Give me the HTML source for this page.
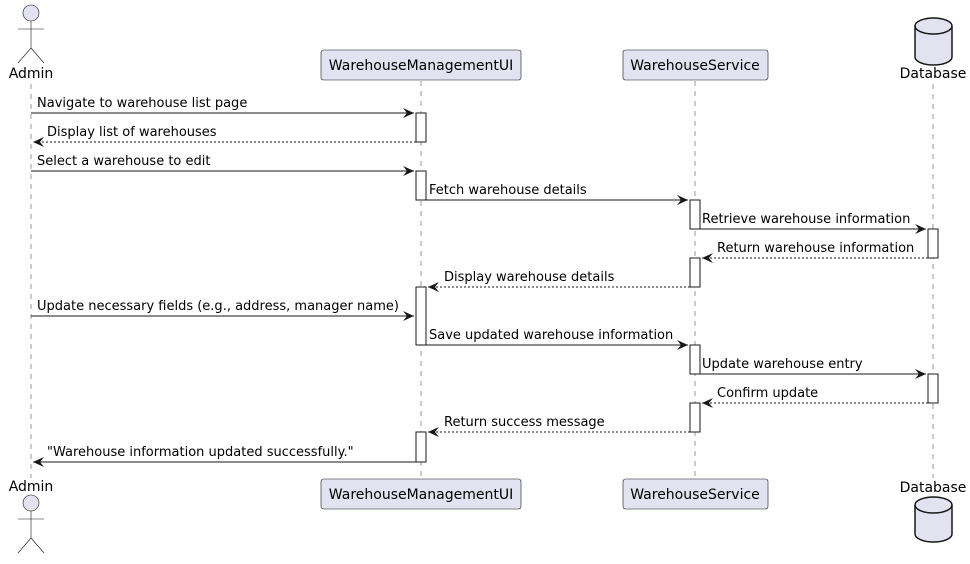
<!DOCTYPE html>
<html><head><meta charset="utf-8"><style>
html,body{margin:0;padding:0;background:#fff;}
svg text{font-family:"DejaVu Sans","Liberation Sans",sans-serif;font-size:13px;fill:#000;}
svg text.p{font-size:14px;}
</style></head><body>
<svg width="970" height="559" viewBox="0 0 970 559" xmlns="http://www.w3.org/2000/svg">
<defs>
<marker id="ah" markerWidth="12" markerHeight="10" refX="11" refY="5" orient="auto" markerUnits="userSpaceOnUse">
<path d="M0,0 L11,5 L0,10 L4,5 Z" fill="#181818"/>
</marker>
</defs>
<g stroke="#555" stroke-width="0.6" stroke-dasharray="5,5">
<line x1="31" y1="84" x2="31" y2="478"/>
<line x1="421" y1="81" x2="421" y2="479"/>
<line x1="695" y1="81" x2="695" y2="479"/>
<line x1="933" y1="84" x2="933" y2="478"/>
</g>
<g stroke="#181818" stroke-width="0.6" fill="#E2E2F0">
<circle cx="31" cy="13" r="8"/>
<line x1="31" y1="21" x2="31" y2="48"/><line x1="18" y1="29" x2="44" y2="29"/>
<line x1="31" y1="48" x2="18" y2="63"/><line x1="31" y1="48" x2="44" y2="63"/>
<rect x="321" y="50" width="200" height="30" rx="2.5"/>
<rect x="623" y="50" width="145" height="30" rx="2.5"/>
<circle cx="31" cy="503" r="8"/>
<line x1="31" y1="511" x2="31" y2="538"/><line x1="18" y1="519" x2="44" y2="519"/>
<line x1="31" y1="538" x2="18" y2="553"/><line x1="31" y1="538" x2="44" y2="553"/>
<rect x="321" y="479" width="200" height="30" rx="2.5"/>
<rect x="623" y="479" width="145" height="30" rx="2.5"/>
</g>
<g stroke="#181818" stroke-width="1.5" fill="#E2E2F0">
<path d="M915,26 A18.5,8 0 0 1 952,26 L952,57 A18.5,8 0 0 1 915,57 Z"/>
<path d="M915,26 A18.5,8 0 0 0 952,26" fill="none"/>
<path d="M915,505 A18.5,8 0 0 1 952,505 L952,534 A18.5,8 0 0 1 915,534 Z"/>
<path d="M915,505 A18.5,8 0 0 0 952,505" fill="none"/>
</g>
<text class="p" x="31" y="78" text-anchor="middle">Admin</text>
<text class="p" x="421" y="70" text-anchor="middle">WarehouseManagementUI</text>
<text class="p" x="695" y="70" text-anchor="middle">WarehouseService</text>
<text class="p" x="933" y="78" text-anchor="middle">Database</text>
<text class="p" x="31" y="491" text-anchor="middle">Admin</text>
<text class="p" x="421" y="499" text-anchor="middle">WarehouseManagementUI</text>
<text class="p" x="695" y="499" text-anchor="middle">WarehouseService</text>
<text class="p" x="933" y="492" text-anchor="middle">Database</text>
<g fill="#fff" stroke="#181818" stroke-width="1">
<rect x="416" y="113" width="10" height="29"/>
<rect x="416" y="171" width="10" height="29"/>
<rect x="690" y="200" width="10" height="29"/>
<rect x="928" y="229" width="10" height="29"/>
<rect x="690" y="258" width="10" height="29"/>
<rect x="416" y="287" width="10" height="58"/>
<rect x="690" y="345" width="10" height="29"/>
<rect x="928" y="374" width="10" height="29"/>
<rect x="690" y="403" width="10" height="29"/>
<rect x="416" y="432" width="10" height="30"/>
</g>
<g stroke="#181818" stroke-width="1" fill="none" marker-end="url(#ah)">
<line x1="31" y1="113" x2="414" y2="113"/>
<line x1="416" y1="142" x2="33" y2="142" stroke-dasharray="2,2"/>
<line x1="31" y1="171" x2="414" y2="171"/>
<line x1="426" y1="200" x2="688" y2="200"/>
<line x1="700" y1="229" x2="926" y2="229"/>
<line x1="928" y1="258" x2="702" y2="258" stroke-dasharray="2,2"/>
<line x1="690" y1="287" x2="428" y2="287" stroke-dasharray="2,2"/>
<line x1="31" y1="316" x2="414" y2="316"/>
<line x1="426" y1="345" x2="688" y2="345"/>
<line x1="700" y1="374" x2="926" y2="374"/>
<line x1="928" y1="403" x2="702" y2="403" stroke-dasharray="2,2"/>
<line x1="690" y1="432" x2="428" y2="432" stroke-dasharray="2,2"/>
<line x1="416" y1="462" x2="33" y2="462"/>
</g>
<text x="37" y="107">Navigate to warehouse list page</text>
<text x="47" y="136">Display list of warehouses</text>
<text x="37" y="165">Select a warehouse to edit</text>
<text x="429" y="194">Fetch warehouse details</text>
<text x="702" y="223">Retrieve warehouse information</text>
<text x="717" y="252">Return warehouse information</text>
<text x="444" y="281">Display warehouse details</text>
<text x="37" y="310">Update necessary fields (e.g., address, manager name)</text>
<text x="429" y="339">Save updated warehouse information</text>
<text x="702" y="368">Update warehouse entry</text>
<text x="717" y="397">Confirm update</text>
<text x="444" y="426">Return success message</text>
<text x="47" y="456">"Warehouse information updated successfully."</text>
</svg>
</body></html>
